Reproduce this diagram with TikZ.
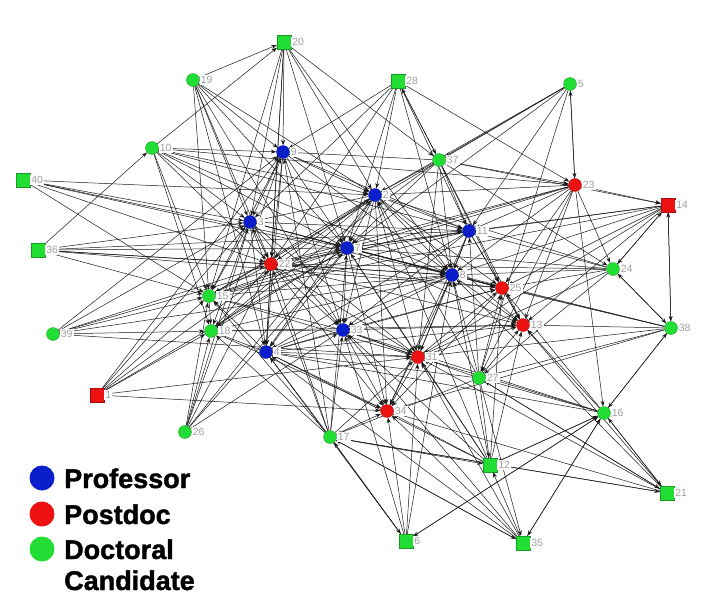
\documentclass[tikz,border=0pt]{standalone}
\usepackage{fontspec}
\setmainfont{Liberation Sans}
\newfontfamily\heavyfont[FakeBold=1.5]{Liberation Sans Bold}
\usetikzlibrary{arrows.meta,backgrounds}
\definecolor{gn}{HTML}{22DD33}
\definecolor{bl}{HTML}{0A1ECC}
\definecolor{rd}{HTML}{EE1111}
\definecolor{lg}{HTML}{A0A0A0}
\tikzset{
  lbl/.style={text=lg,font=\fontsize{10.5}{10.5}\selectfont,inner sep=1pt,fill=white},
  gc/.style={circle,fill=gn,draw=gn!70!black,line width=0.3pt,minimum size=13pt,inner sep=0pt},
  bc/.style={circle,fill=bl,draw=bl!70!black,line width=0.3pt,minimum size=13pt,inner sep=0pt},
  rc/.style={circle,fill=rd,draw=rd!70!black,line width=0.3pt,minimum size=13pt,inner sep=0pt},
  gs/.style={rectangle,fill=gn,draw=gn!70!black,line width=0.3pt,minimum size=14pt,inner sep=0pt},
  rs/.style={rectangle,fill=rd,draw=rd!70!black,line width=0.3pt,minimum size=14pt,inner sep=0pt},
  edge/.style={draw=black!90,line width=0.5pt,-{Stealth[length=5.5pt,width=4pt]}},
  legtext/.style={font=\fontsize{27}{27}\selectfont\heavyfont,anchor=base west,inner sep=0pt},
  legdot/.style={circle,minimum size=25pt,inner sep=0pt}
}
\begin{document}
\begin{tikzpicture}[x=1pt,y=-1pt]
\useasboundingbox (0,0) rectangle (702,600);
% green squares
\node[gs,label={[lbl]right:20}] (n20) at (284,42) {};
\node[gs,label={[lbl]right:28}] (n28) at (398,81) {};
\node[gs,label={[lbl]right:40}] (n40) at (23,180) {};
\node[gs,label={[lbl]right:36}] (n36) at (38,250) {};
\node[gs,label={[lbl]right:21}] (n21) at (667,493) {};
\node[gs,label={[lbl]right:6}] (n6) at (406,541) {};
\node[gs,label={[lbl]right:35}] (n35) at (523,543) {};
\node[gs,label={[lbl]right:12}] (n12) at (490,465) {};
% red squares
\node[rs,label={[lbl]right:1}] (n1) at (97,395) {};
\node[rs,label={[lbl]right:14}] (n14) at (668,205) {};
% green circles
\node[gc,label={[lbl]right:19}] (n19) at (193,80) {};
\node[gc,label={[lbl]right:10}] (n10) at (152,148) {};
\node[gc,label={[lbl]right:5}] (n5) at (570,84) {};
\node[gc,label={[lbl]right:37}] (n37) at (439,160) {};
\node[gc,label={[lbl]right:24}] (n24) at (613,269) {};
\node[gc,label={[lbl]right:38}] (n38) at (671,328) {};
\node[gc,label={[lbl]right:16}] (n16) at (604,413) {};
\node[gc,label={[lbl]right:27}] (n27) at (479,378) {};
\node[gc,label={[lbl]right:17}] (n17) at (330,437) {};
\node[gc,label={[lbl]right:26}] (n26) at (185,432) {};
\node[gc,label={[lbl]right:39}] (n39) at (53,334) {};
\node[gc,label={[lbl]right:15}] (n15) at (209,296) {};
\node[gc,label={[lbl]right:18}] (n18) at (211,331) {};
% blue circles
\node[bc,label={[lbl]right:9}] (n9) at (283,152) {};
\node[bc,label={[lbl]right:2}] (n2) at (375,195) {};
\node[bc,label={[lbl]right:3}] (n3) at (250,222) {};
\node[bc,label={[lbl]right:7}] (n7) at (347,248) {};
\node[bc,label={[lbl]right:11}] (n11) at (469,231) {};
\node[bc,label={[lbl]right:8}] (n8) at (452,275) {};
\node[bc,label={[lbl]right:33}] (n33) at (343,330) {};
\node[bc,label={[lbl]right:4}] (n4) at (266,352) {};
% red circles
\node[rc,label={[lbl]right:23}] (n23) at (575,185) {};
\node[rc,label={[lbl]right:22}] (n22) at (271,264) {};
\node[rc,label={[lbl]right:25}] (n25) at (502,288) {};
\node[rc,label={[lbl]right:13}] (n13) at (523,325) {};
\node[rc,label={[lbl]right:31}] (n31) at (418,357) {};
\node[rc,label={[lbl]right:34}] (n34) at (387,411) {};
% edges
\begin{scope}[on background layer]
\foreach \s/\ts in {
 n20/{n9,n22,n3,n2,n15,n8,n7,n37,n4},
 n19/{n20,n9,n7,n2,n22,n15,n3,n4,n33},
 n10/{n20,n9,n2,n7,n22,n11,n8,n3,n23,n15,n18},
 n40/{n2,n3,n22,n7,n15,n8},
 n36/{n3,n22,n7,n11,n10,n8,n25,n15},
 n39/{n3,n22,n7,n8,n31,n15,n18,n9},
 n1/{n3,n9,n7,n15,n18,n31,n34,n2},
 n26/{n3,n9,n22,n7,n15,n18,n2,n33},
 n28/{n9,n3,n2,n7,n37,n8,n11,n22,n23},
 n5/{n2,n7,n11,n23,n15,n37,n27},
 n37/{n28,n9,n2,n7,n11,n8,n25,n23,n14,n24,n31,n13,n18},
 n23/{n5,n2,n11,n8,n14,n24,n25,n13,n27,n16,n7,n22,n15},
 n14/{n11,n8,n25,n24,n38,n7,n31,n13,n15},
 n24/{n11,n8,n25,n2,n7,n14,n31,n27,n22,n38},
 n38/{n14,n24,n25,n13,n8,n31,n27,n16,n7,n34},
 n16/{n27,n13,n25,n12,n21,n35,n6,n31,n33,n38,n4},
 n27/{n21,n12,n35,n25,n13,n8,n11,n2,n17,n4,n33},
 n17/{n12,n6,n35,n21,n4,n33,n31,n7,n22,n15,n18,n3,n34,n9},
 n12/{n34,n31,n33,n4,n7,n8,n13,n25,n16,n2},
 n6/{n34,n31,n33,n4,n17,n16,n8},
 n35/{n34,n31,n4,n17,n16,n12,n33},
 n21/{n31,n13,n27,n16,n17,n34,n8},
 n9/{n2,n3,n7,n22,n8,n11,n33,n4,n15},
 n2/{n3,n7,n11,n8,n22,n15,n33,n31,n25,n13,n18,n4,n34},
 n3/{n22,n7,n15,n18,n4,n33,n8,n11,n31,n25},
 n7/{n22,n11,n8,n33,n4,n31,n34,n25,n13,n15,n18},
 n11/{n8,n25,n13,n22,n33,n31,n4,n34,n15},
 n8/{n22,n25,n13,n31,n33,n4,n34,n15,n18},
 n22/{n33,n4,n15,n18,n31,n34,n13,n25},
 n33/{n4,n31,n34,n15,n18,n25,n13},
 n4/{n31,n34,n15,n18,n13,n25},
 n31/{n25,n13,n34,n15},
 n25/{n13,n34},
 n15/{n18},
 n18/{n34,n13}}
{ \foreach \t in \ts { \draw[edge] (\s) -- (\t); } }
\end{scope}
% legend
\node[legdot,fill=bl] (lb) at (42,478) {};
\node[legdot,fill=rd] (lr) at (42,514) {};
\node[legdot,fill=gn] (lgc) at (42,549) {};
\node[legtext] (tb) at (64,488) {Professor};
\node[legtext] (tr) at (64,524) {Postdoc};
\node[legtext] (tg) at (64,559) {Doctoral};
\node[legtext] (tc) at (64,590) {Candidate};
\end{tikzpicture}
\end{document}
